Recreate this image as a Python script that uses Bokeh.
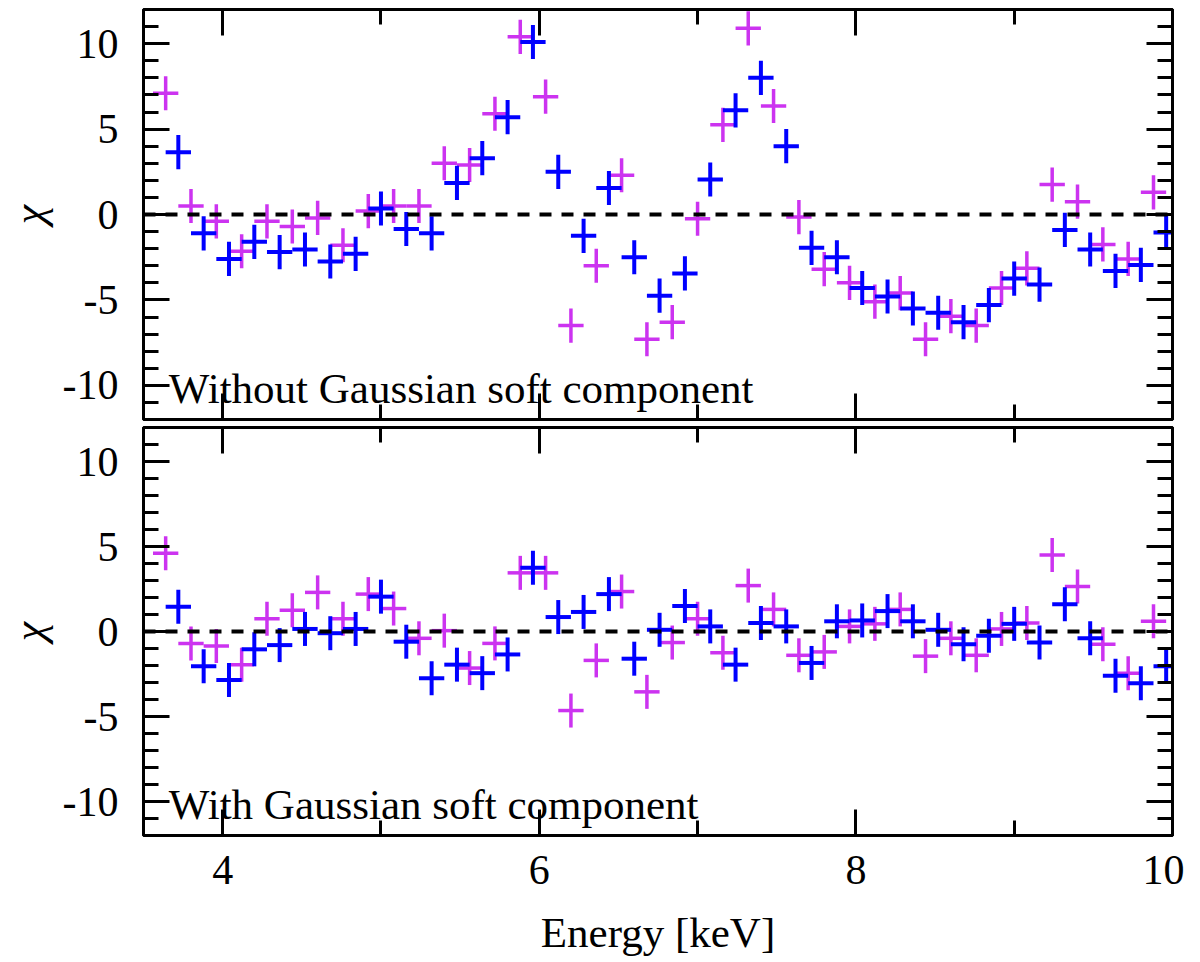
import numpy as np
from bokeh.embed import file_html
from bokeh.layouts import column
from bokeh.models import (ColumnDataSource, CustomLabelingPolicy, FixedTicker, Label,
                          LinearAxis, Range1d, Span)
from bokeh.plotting import figure
from bokeh.resources import INLINE

# energy bins (keV) of the two spectra
purple_x = [3.64, 3.80, 3.96, 4.12, 4.28, 4.44, 4.60, 4.76, 4.92, 5.08,
            5.24, 5.40, 5.56, 5.72, 5.88, 6.04, 6.20, 6.36, 6.52, 6.68,
            6.84, 7.00, 7.16, 7.32, 7.48, 7.64, 7.80, 7.96, 8.12, 8.28,
            8.44, 8.60, 8.76, 8.92, 9.08, 9.24, 9.40, 9.56, 9.72, 9.88]
blue_x = [3.72, 3.88, 4.04, 4.20, 4.36, 4.52, 4.68, 4.84, 5.00, 5.16,
          5.32, 5.48, 5.64, 5.80, 5.96, 6.12, 6.28, 6.44, 6.60, 6.76,
          6.92, 7.08, 7.24, 7.40, 7.56, 7.72, 7.88, 8.04, 8.20, 8.36,
          8.52, 8.68, 8.84, 9.00, 9.16, 9.32, 9.48, 9.64, 9.80, 9.96]

# residuals, without the gaussian soft component
purple_top = [7.1, 0.5, -0.4, -2.15, -0.4, -0.7, -0.2, -1.8, 0.2, 0.5,
              0.5, 3.0, 2.9, 5.9, 10.4, 6.9, -6.5, -3.0, 2.3, -7.3,
              -6.3, -0.25, 5.25, 10.9, 6.35, -0.15, -3.2, -4.0, -5.1, -4.6,
              -7.3, -5.95, -6.5, -4.3, -3.15, 1.75, 0.75, -1.75, -2.6, 1.3]
blue_top = [3.65, -1.1, -2.6, -1.6, -2.2, -2.05, -2.75, -2.3, 0.35, -0.85,
            -1.1, 1.85, 3.3, 5.7, 10.1, 2.5, -1.25, 1.55, -2.5, -4.75,
            -3.45, 2.05, 6.1, 8.0, 4.0, -1.95, -2.5, -4.3, -4.8, -5.5,
            -5.75, -6.3, -5.3, -3.75, -4.1, -0.9, -2.05, -3.3, -2.95, -1.05]

# residuals, with the gaussian soft component
purple_bot = [4.6, -0.7, -0.85, -1.95, 0.75, 1.25, 2.3, 0.75, 2.2, 1.35,
              -0.4, 0.05, -2.15, -0.7, 3.45, 3.45, -4.65, -1.7, 2.35, -3.55,
              -0.65, 0.75, -1.25, 2.7, 1.3, -1.4, -1.2, 0.3, 0.45, 1.3,
              -1.45, -0.4, -1.4, 0.15, 0.5, 4.5, 2.65, -0.75, -2.45, 0.6]
blue_bot = [1.45, -2.05, -2.85, -1.05, -0.8, 0.15, -0.1, 0.15, 2.05, -0.6,
            -2.75, -1.95, -2.45, -1.35, 3.75, 0.85, 1.15, 2.2, -1.6, 0.1,
            1.5, 0.3, -1.95, 0.5, 0.3, -1.85, 0.6, 0.65, 1.2, 0.6,
            0.1, -0.75, -0.25, 0.45, -0.65, 1.6, -0.4, -2.6, -3.05, -2.05]

half_bin = 0.08
err = 1.0

x_major = [4, 6, 8, 10]
x_minor = [5, 7, 9]
y_major = [-10, -5, 0, 5, 10]
y_minor = list(range(-11, 12))

FONT = "Liberation Serif"
PURPLE = "#CC33F0"
BLUE = "#0000FF"

no_labels = CustomLabelingPolicy(code="return new Set()")


def crosses(p, xs, ys, color, lw):
    xs = np.array(xs)
    ys = np.array(ys)
    src = ColumnDataSource(dict(x=xs, y=ys, x0=xs - half_bin, x1=xs + half_bin,
                                y0=ys - err, y1=ys + err))
    p.segment(x0="x0", y0="y", x1="x1", y1="y", source=src, line_color=color, line_width=lw)
    p.segment(x0="x", y0="y0", x1="x", y1="y1", source=src, line_color=color, line_width=lw)


def style_axis(ax, labels):
    ax.axis_line_width = 3
    ax.major_tick_line_width = 3
    ax.minor_tick_line_width = 3
    ax.major_tick_in = 26
    ax.major_tick_out = 0
    ax.minor_tick_in = 15
    ax.minor_tick_out = 0
    ax.major_label_text_font = FONT
    ax.major_label_text_color = "black"
    if labels:
        ax.major_label_text_font_size = "42px"
    else:
        ax.major_label_text_font_size = "1px"
        ax.major_label_standoff = 0
        ax.major_label_policy = no_labels


def panel(height, purple_y, blue_y, caption, bottom):
    p = figure(width=1184, height=height, x_range=Range1d(3.5, 10), y_range=Range1d(-12, 12),
               output_backend="svg", toolbar_location=None,
               min_border_left=143, min_border_right=12,
               min_border_top=0 if bottom else 9, min_border_bottom=121 if bottom else 0)
    p.grid.visible = False
    p.outline_line_color = "black"
    p.outline_line_width = 3
    p.add_layout(LinearAxis(), "above")
    p.add_layout(LinearAxis(), "right")

    xb, xa = p.below[0], p.above[0]
    yl, yr = p.left[0], p.right[0]
    for ax in (xb, xa):
        ax.ticker = FixedTicker(ticks=x_major, minor_ticks=x_minor)
    for ax in (yl, yr):
        ax.ticker = FixedTicker(ticks=y_major, minor_ticks=y_minor)

    style_axis(xb, bottom)
    style_axis(xa, False)
    style_axis(yl, True)
    style_axis(yr, False)

    yl.major_label_overrides = {-10: "-10", -5: "-5", 0: "0", 5: "5", 10: "10"}
    yl.major_label_standoff = 25
    yl.axis_label = "χ"
    yl.axis_label_text_font = FONT
    yl.axis_label_text_color = "black"
    yl.axis_label_text_font_style = "italic"
    yl.axis_label_text_font_size = "44px"
    yl.axis_label_standoff = 6

    if bottom:
        xb.major_label_standoff = 20
        xb.axis_label = "Energy [keV]"
        xb.axis_label_text_font = FONT
        xb.axis_label_text_color = "black"
        xb.axis_label_text_font_style = "normal"
        xb.axis_label_text_font_size = "43px"
        xb.axis_label_standoff = 22

    crosses(p, purple_x, purple_y, PURPLE, 3.5)
    crosses(p, blue_x, blue_y, BLUE, 4)

    p.add_layout(Span(location=0, dimension="width", line_color="black",
                      line_width=4, line_dash="12 10"))
    p.add_layout(Label(x=3.66, y=-10.2, text=caption, text_font=FONT,
                       text_font_size="43px", text_baseline="alphabetic", text_color="black"))
    return p


p1 = panel(423, purple_top, blue_top, "Without Gaussian soft component", False)
p2 = panel(535, purple_bot, blue_bot, "With Gaussian soft component", True)

p = column(p1, p2, spacing=0)
open("out.html", "w").write(file_html(p, INLINE))
